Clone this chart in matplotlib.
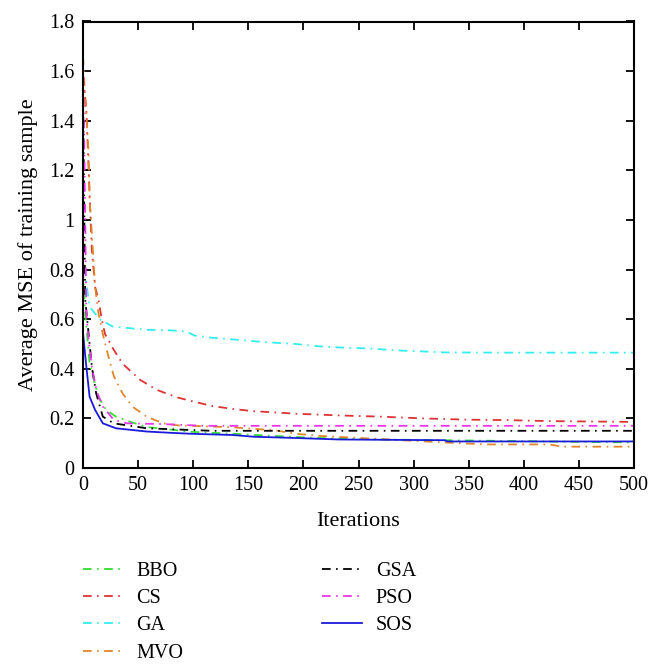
import matplotlib
matplotlib.use("Agg")
import matplotlib.pyplot as plt

plt.rcParams['font.family'] = ['Liberation Serif', 'DejaVu Serif']

# Iteration sample points per series and average MSE values
bbo_x = [0, 2, 6, 14, 21, 30, 43, 58, 79, 98, 136, 174, 213, 270, 328, 423, 500]
bbo_y = [0.80, 0.62, 0.42, 0.287, 0.234, 0.207, 0.186, 0.165, 0.155, 0.146, 0.138, 0.129, 0.121, 0.115, 0.112, 0.107, 0.103]

cs_x = [0, 3, 6, 8, 11, 14, 17, 20, 28, 36, 52, 67, 76, 86, 101, 117, 136, 155, 193, 232, 270, 308, 347, 385, 423, 495, 500]
cs_y = [1.58, 1.45, 1.1, 0.88, 0.73, 0.68, 0.60, 0.54, 0.476, 0.42, 0.355, 0.315, 0.30, 0.284, 0.267, 0.25, 0.238, 0.229, 0.219, 0.212, 0.207, 0.2, 0.195, 0.193, 0.189, 0.186, 0.19]

ga_x = [0, 2, 6, 15, 27, 58, 79, 94, 101, 117, 140, 163, 193, 213, 232, 259, 285, 308, 328, 385, 500]
ga_y = [0.81, 0.78, 0.65, 0.60, 0.57, 0.557, 0.555, 0.55, 0.534, 0.525, 0.517, 0.508, 0.50, 0.491, 0.486, 0.482, 0.474, 0.47, 0.466, 0.465, 0.465]

mvo_x = [0, 2, 5, 6, 8, 11, 14, 18, 23, 28, 36, 45, 58, 73, 86, 105, 136, 174, 193, 216, 251, 289, 328, 366, 423, 435, 500]
mvo_y = [1.66, 1.49, 1.28, 1.08, 0.95, 0.73, 0.625, 0.54, 0.45, 0.37, 0.30, 0.247, 0.206, 0.18, 0.172, 0.169, 0.164, 0.152, 0.138, 0.129, 0.121, 0.112, 0.103, 0.095, 0.095, 0.086, 0.086]

gsa_x = [0, 1, 2, 5, 8, 12, 18, 28, 58, 117, 300, 500]
gsa_y = [1.5, 1.1, 0.68, 0.545, 0.41, 0.30, 0.207, 0.18, 0.16, 0.15, 0.15, 0.15]

pso_x = [0, 1, 2, 3, 5, 8, 12, 18, 28, 40, 73, 110, 300, 500]
pso_y = [1.66, 1.35, 1.0, 0.625, 0.52, 0.41, 0.315, 0.247, 0.194, 0.18, 0.177, 0.17, 0.17, 0.17]

sos_x = [0, 3, 6, 11, 18, 30, 58, 79, 98, 136, 155, 193, 232, 328, 331, 500]
sos_y = [0.545, 0.41, 0.287, 0.234, 0.18, 0.16, 0.147, 0.142, 0.138, 0.133, 0.126, 0.121, 0.115, 0.112, 0.107, 0.107]

labels = ['BBO', 'CS', 'GA', 'MVO', 'GSA', 'PSO', 'SOS']
colors = ['#33dd33', '#dd3333', '#33eeee', '#e0862a', '#000000', '#ee33ee', '#1a1adc']
xticks = [0, 50, 100, 150, 200, 250, 300, 350, 400, 450, 500]
yticks = [0, 0.2, 0.4, 0.6, 0.8, 1.0, 1.2, 1.4, 1.6, 1.8]
ytick_labels = ['0', '0.2', '0.4', '0.6', '0.8', '1', '1.2', '1.4', '1.6', '1.8']

series = [(bbo_x, bbo_y), (cs_x, cs_y), (ga_x, ga_y), (mvo_x, mvo_y),
          (gsa_x, gsa_y), (pso_x, pso_y), (sos_x, sos_y)]

W, H = 662, 672
fig = plt.figure(figsize=(W / 100, H / 100), dpi=100)
ax = fig.add_axes([83 / W, 1 - 468 / H, (634 - 83) / W, (468 - 21.5) / H])

dash = (0, (4.8, 3, 0.9, 3))
for (x, y), lab, c in zip(series, labels, colors):
    ls = '-' if lab == 'SOS' else dash
    ax.plot(x, y, color=c, linestyle=ls, linewidth=1.3, label=lab)

ax.set_xlim(0, 500)
ax.set_ylim(0, 1.8)
ax.set_xticks(xticks)
ax.set_yticks(yticks)
ax.set_yticklabels(ytick_labels)
ax.tick_params(direction='in', top=True, right=True, labelsize=14.5, length=6, width=1.3, pad=6)
for s in ax.spines.values():
    s.set_linewidth(1.5)
ax.set_xlabel('Iterations', fontsize=16, labelpad=12)
ax.set_ylabel('Average MSE of training sample', fontsize=16, labelpad=8)

handles, labs = ax.get_legend_handles_labels()
fig.legend(handles, labs, loc='upper left', bbox_to_anchor=(83 / W, 1 - 562 / H),
           ncol=2, frameon=False, fontsize=14.5, handlelength=1.95,
           columnspacing=6.9, labelspacing=0.4, handletextpad=0.7, borderpad=0,
           borderaxespad=0)

fig.savefig('out.png', dpi=100)
